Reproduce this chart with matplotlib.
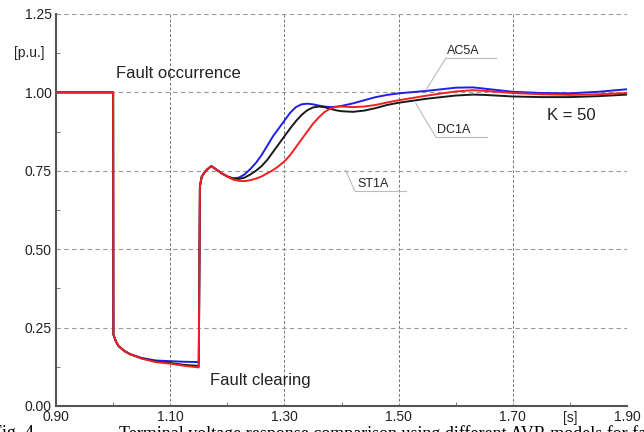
import matplotlib.pyplot as plt
from matplotlib.ticker import MultipleLocator

# time axis [s] and terminal voltage [p.u.] for the three AVR models (K = 50)
t = [0.90, 1.000, 1.0005, 1.005, 1.01, 1.02, 1.03, 1.05, 1.075, 1.10, 1.125, 1.150,
     1.152, 1.155, 1.16, 1.165, 1.172, 1.18, 1.19, 1.20, 1.21, 1.22, 1.23, 1.24,
     1.25, 1.26, 1.27, 1.28, 1.29, 1.30, 1.31, 1.32, 1.33, 1.34, 1.35, 1.36, 1.37,
     1.38, 1.39, 1.40, 1.42, 1.44, 1.46, 1.48, 1.50, 1.55, 1.60, 1.63, 1.65, 1.70,
     1.75, 1.80, 1.85, 1.90]

ac5a = [1.0, 1.0, 0.228, 0.205, 0.19, 0.175, 0.165, 0.153, 0.145, 0.143, 0.141, 0.140,
        0.70, 0.73, 0.745, 0.755, 0.765, 0.755, 0.742, 0.732, 0.726, 0.728, 0.738, 0.755,
        0.775, 0.80, 0.83, 0.86, 0.885, 0.91, 0.935, 0.953, 0.962, 0.964, 0.962, 0.958, 0.955,
        0.953, 0.954, 0.957, 0.965, 0.975, 0.985, 0.992, 0.997, 1.005, 1.015, 1.016, 1.012, 1.002,
        0.998, 0.997, 1.002, 1.010]

dc1a = [1.0, 1.0, 0.228, 0.205, 0.19, 0.175, 0.165, 0.152, 0.142, 0.137, 0.131, 0.128,
        0.70, 0.73, 0.745, 0.755, 0.765, 0.755, 0.742, 0.732, 0.725, 0.724, 0.728, 0.738,
        0.75, 0.765, 0.785, 0.81, 0.835, 0.86, 0.885, 0.908, 0.928, 0.943, 0.952, 0.955, 0.953,
        0.948, 0.943, 0.940, 0.938, 0.942, 0.950, 0.960, 0.967, 0.980, 0.990, 0.993, 0.992, 0.987,
        0.985, 0.985, 0.988, 0.993]

st1a = [1.0, 1.0, 0.228, 0.205, 0.19, 0.175, 0.165, 0.151, 0.140, 0.135, 0.128, 0.123,
        0.70, 0.73, 0.745, 0.755, 0.765, 0.755, 0.742, 0.732, 0.722, 0.718, 0.717, 0.720,
        0.725, 0.732, 0.742, 0.752, 0.765, 0.78, 0.80, 0.825, 0.85, 0.875, 0.90, 0.92, 0.937,
        0.948, 0.954, 0.955, 0.953, 0.955, 0.960, 0.968, 0.975, 0.990, 1.003, 1.007, 1.005, 0.998,
        0.994, 0.992, 0.994, 0.998]

x_ticks = [0.90, 1.10, 1.30, 1.50, 1.70, 1.90]
y_ticks = [0.00, 0.25, 0.50, 0.75, 1.00, 1.25]

plt.rcParams['font.family'] = ['Liberation Sans', 'DejaVu Sans']

fig = plt.figure(figsize=(6.44, 4.32), dpi=100)
ax = fig.add_axes([0.087, 0.0602, 0.8866, 0.9074])

ax.plot(t, ac5a, color="#1f1fe8", lw=1.4, label="AC5A")
ax.plot(t, dc1a, color="#1a1a1a", lw=1.4, label="DC1A")
ax.plot(t, st1a, color="#f02020", lw=1.4, label="ST1A")

ax.set_xlim(0.9, 1.9)
ax.set_ylim(0, 1.25)
ax.set_xticks(x_ticks)
ax.set_yticks(y_ticks)
ax.set_xticklabels(["%.2f" % v for v in x_ticks])
ax.set_yticklabels(["%.2f" % v for v in y_ticks])
ax.xaxis.set_minor_locator(MultipleLocator(0.1))
ax.yaxis.set_minor_locator(MultipleLocator(0.125))
ax.tick_params(which="major", length=0, labelsize=10, pad=3, colors="#222222")
ax.tick_params(which="minor", direction="in", length=3, color="#666666")
ax.grid(True, axis="y", which="major", ls=(0, (4, 3)), color="#999999", lw=0.8)
ax.grid(True, axis="x", which="major", ls=(0, (3, 2)), color="#777777", lw=0.7)
for s in ["top", "right"]:
    ax.spines[s].set_visible(False)
for s in ["left", "bottom"]:
    ax.spines[s].set_color("#555555")
    ax.spines[s].set_linewidth(1.5)

# axis unit labels
ax.text(-0.074, 1.125, "[p.u.]", transform=ax.get_yaxis_transform(), fontsize=10,
        ha="left", va="center", color="#222222")
ax.text(1.80, -0.012, "[s]", transform=ax.get_xaxis_transform(), fontsize=10,
        ha="center", va="top", color="#222222")

# annotations
ax.text(1.005, 1.06, "Fault occurrence", fontsize=12, color="#222222", va="center")
ax.text(1.17, 0.08, "Fault clearing", fontsize=12, color="#222222", va="center")
ax.text(1.76, 0.925, "K = 50", fontsize=12, color="#222222", va="center")

lead = dict(color="#bbbbbb", lw=0.8)
ax.plot([1.583, 1.671], [1.11, 1.11], **lead)
ax.plot([1.548, 1.583], [1.008, 1.11], **lead)
ax.text(1.585, 1.113, "AC5A", fontsize=9, color="#222222", va="bottom")

ax.plot([1.565, 1.654], [0.858, 0.858], **lead)
ax.plot([1.530, 1.565], [0.965, 0.858], **lead)
ax.text(1.567, 0.861, "DC1A", fontsize=9, color="#222222", va="bottom")

ax.plot([1.423, 1.513], [0.687, 0.687], **lead)
ax.plot([1.407, 1.423], [0.752, 0.687], **lead)
ax.text(1.428, 0.690, "ST1A", fontsize=9, color="#222222", va="bottom")

# figure caption, mostly cut off by the bottom edge
fig.text(-0.012, 0.017, "Fig. 4.", family="Liberation Serif", fontsize=13, va="top", ha="left")
fig.text(0.185, 0.017, "Terminal voltage response comparison using different AVR models for fault",
         family="Liberation Serif", fontsize=13, va="top", ha="left")

fig.savefig("out.png", dpi=100)
plt.close(fig)
